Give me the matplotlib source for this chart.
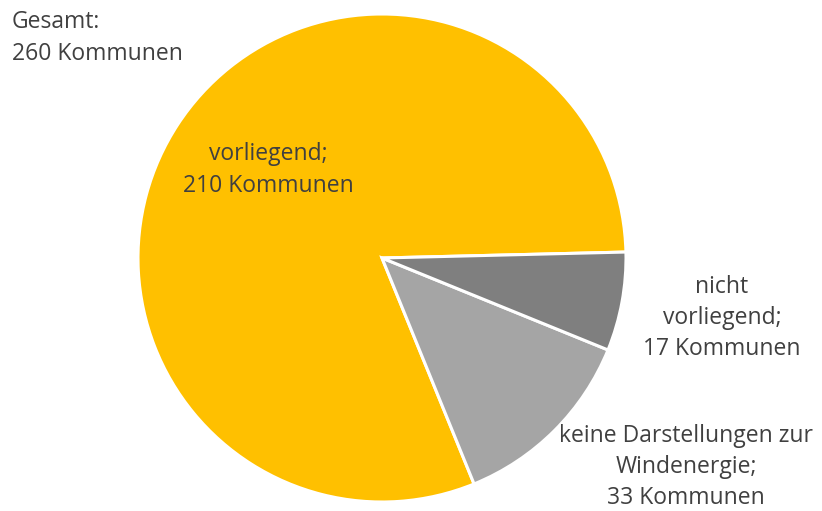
import matplotlib
matplotlib.use("Agg")
import matplotlib.pyplot as plt

categories = ["vorliegend", "keine Darstellungen zur Windenergie", "nicht vorliegend"]
values = [210, 33, 17]
colors = ["#FFC000", "#A5A5A5", "#7F7F7F"]
labels = ["vorliegend;\n210 Kommunen",
          "keine Darstellungen zur\nWindenergie;\n33 Kommunen",
          "nicht\nvorliegend;\n17 Kommunen"]
total_label = "Gesamt:\n260 Kommunen"

plt.rcParams['font.family'] = ['Open Sans', 'DejaVu Sans']
W, H = 822, 511
fig = plt.figure(figsize=(W / 100, H / 100), dpi=100)
ax = fig.add_axes([0, 0, 1, 1])

ax.pie(values, colors=colors, startangle=1.4, counterclock=True,
       center=(382, H - 258), radius=244, frame=True,
       wedgeprops=dict(edgecolor='white', linewidth=2.2))
ax.set_xlim(0, W)
ax.set_ylim(0, H)
ax.set_aspect('equal')
ax.axis('off')

tc = "#404040"
fs = 16.5
ls = 1.4
ax.text(268, H - 170, labels[0], ha='center', va='center', fontsize=fs, color=tc, linespacing=ls)
ax.text(686, H - 467, labels[1], ha='center', va='center', fontsize=fs, color=tc, linespacing=ls)
ax.text(722, H - 318, labels[2], ha='center', va='center', fontsize=fs, color=tc, linespacing=ls)
ax.text(12, H - 38, total_label, ha='left', va='center', fontsize=fs, color=tc, linespacing=ls)

fig.savefig("out.png", dpi=100)
